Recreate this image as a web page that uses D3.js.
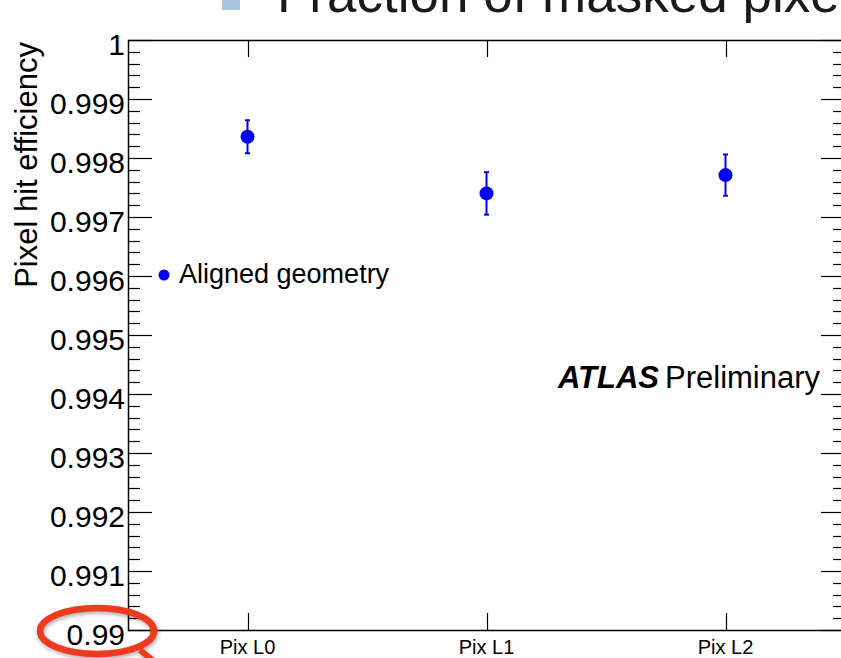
<!DOCTYPE html>
<html>
<head>
<meta charset="utf-8">
<script src="https://cdn.jsdelivr.net/npm/d3@7"></script>
<style>
  html, body { margin: 0; padding: 0; background: #fff; }
  svg { display: block; font-family: "Liberation Sans", Arial, Helvetica, sans-serif; }
</style>
</head>
<body>
<svg id="chart" width="841" height="658"></svg>
<script>
// Pixel hit efficiency per pixel layer
const layers = ["Pix L0", "Pix L1", "Pix L2"];
const efficiency = [0.99836, 0.99740, 0.99771];
const efficiencyErr = [0.00028, 0.00036, 0.00035];
const yTicks = [0.99, 0.991, 0.992, 0.993, 0.994, 0.995, 0.996, 0.997, 0.998, 0.999, 1];
const yTickLabels = ["0.99", "0.991", "0.992", "0.993", "0.994", "0.995", "0.996", "0.997", "0.998", "0.999", "1"];
const seriesName = "Aligned geometry";
const yTitle = "Pixel hit efficiency";
const headerText = "Fraction of masked pixels";

const svg = d3.select("#chart");
const frame = { left: 128, right: 845, top: 40, bottom: 630 };

const x = d3.scaleBand().domain(layers).range([frame.left, frame.right]).padding(0);
const y = d3.scaleLinear().domain([0.99, 1]).range([frame.bottom, frame.top]);
const cx = d => x(d) + x.bandwidth() / 2;

// Header text partly above the canvas, with its legend swatch
svg.append("rect")
  .attr("x", 222).attr("y", -8).attr("width", 18).attr("height", 18)
  .attr("fill", "#a9c4e0");
svg.append("text")
  .attr("x", 277).attr("y", 12)
  .attr("font-size", 53).attr("fill", "#1a1a1a")
  .text(headerText);

// Minor and major ticks on left and right sides
const minorTicks = y.ticks(50).filter(v => !yTicks.some(t => Math.abs(t - v) < 1e-9));
const tickG = svg.append("g").attr("stroke", "#000").attr("stroke-width", 1.2);
minorTicks.forEach(v => {
  const yy = Math.round(y(v)) + 0.5;
  tickG.append("line").attr("x1", frame.left).attr("x2", frame.left + 12).attr("y1", yy).attr("y2", yy);
  tickG.append("line").attr("x1", frame.right - 12).attr("x2", frame.right).attr("y1", yy).attr("y2", yy);
});
yTicks.forEach(v => {
  const yy = Math.round(y(v)) + 0.5;
  tickG.append("line").attr("x1", frame.left).attr("x2", frame.left + 24).attr("y1", yy).attr("y2", yy);
  tickG.append("line").attr("x1", frame.right - 24).attr("x2", frame.right).attr("y1", yy).attr("y2", yy);
});
// Category ticks at top and bottom
layers.forEach(l => {
  const xx = Math.round(cx(l)) + 0.5;
  tickG.append("line").attr("x1", xx).attr("x2", xx).attr("y1", frame.bottom).attr("y2", frame.bottom - 17);
  tickG.append("line").attr("x1", xx).attr("x2", xx).attr("y1", frame.top).attr("y2", frame.top + 17);
});

// Frame
svg.append("rect")
  .attr("x", frame.left + 0.5).attr("y", frame.top + 0.5)
  .attr("width", frame.right - frame.left).attr("height", frame.bottom - frame.top)
  .attr("fill", "none").attr("stroke", "#000").attr("stroke-width", 1.5);

// Y tick labels
svg.append("g").selectAll("text").data(yTicks).join("text")
  .attr("x", 125).attr("y", d => y(d) + 15)
  .attr("text-anchor", "end").attr("font-size", 30).attr("fill", "#000")
  .text((d, i) => yTickLabels[i]);

// X category labels
svg.append("g").selectAll("text").data(layers).join("text")
  .attr("x", d => cx(d)).attr("y", 654)
  .attr("text-anchor", "middle").attr("font-size", 20).attr("fill", "#000")
  .text(d => d);

// Y axis title
svg.append("text")
  .attr("transform", `translate(37, ${frame.top + 2}) rotate(-90)`)
  .attr("text-anchor", "end").attr("font-size", 31).attr("fill", "#000")
  .text(yTitle);

// Error bars and markers
const blue = "#0000ff";
const pts = svg.append("g");
layers.forEach((l, i) => {
  const xx = cx(l);
  const yt = y(efficiency[i] + efficiencyErr[i]);
  const yb = y(efficiency[i] - efficiencyErr[i]);
  pts.append("line").attr("x1", xx).attr("x2", xx).attr("y1", yt).attr("y2", yb)
    .attr("stroke", blue).attr("stroke-width", 2);
  [yt, yb].forEach(yc => pts.append("line")
    .attr("x1", xx - 2.5).attr("x2", xx + 2.5).attr("y1", yc).attr("y2", yc)
    .attr("stroke", blue).attr("stroke-width", 2));
  pts.append("circle").attr("cx", xx).attr("cy", y(efficiency[i])).attr("r", 7).attr("fill", blue);
});

// Legend
svg.append("circle").attr("cx", 164).attr("cy", 275).attr("r", 5.5).attr("fill", blue);
svg.append("text").attr("x", 179).attr("y", 283)
  .attr("font-size", 27).attr("fill", "#000").text(seriesName);

// Experiment label
const atlas = svg.append("text").attr("x", 558).attr("y", 388).attr("font-size", 31).attr("fill", "#000");
atlas.append("tspan").attr("font-weight", "bold").attr("font-style", "italic").text("ATLAS");
atlas.append("tspan").attr("dx", 6).text("Preliminary");

// Red highlight ring around the lowest axis value
svg.append("ellipse")
  .attr("cx", 97).attr("cy", 631).attr("rx", 57).attr("ry", 23)
  .attr("fill", "none").attr("stroke", "#f03a1e").attr("stroke-width", 6.5)
  .style("filter", "drop-shadow(1px 2px 2px rgba(0,0,0,0.35))");
svg.append("line")
  .attr("x1", 140).attr("y1", 650).attr("x2", 162).attr("y2", 668)
  .attr("stroke", "#f03a1e").attr("stroke-width", 6)
  .style("filter", "drop-shadow(1px 2px 2px rgba(0,0,0,0.35))");
</script>
</body>
</html>
